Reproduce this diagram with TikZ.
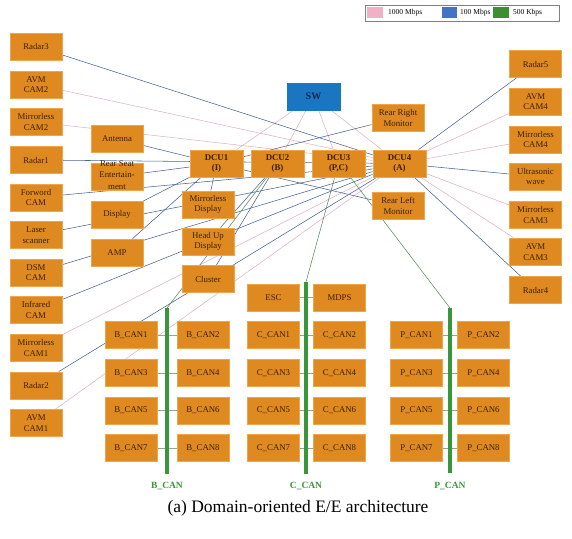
\documentclass[tikz,border=0pt]{standalone}
\usepackage{fontspec}
\setmainfont{Liberation Serif}
\usetikzlibrary{backgrounds}
\pgfdeclarelayer{paper}
\pgfsetlayers{paper,background,main}
\definecolor{unitfill}{HTML}{DF8A20}
\definecolor{unitedge}{HTML}{EFA64A}
\definecolor{unittext}{HTML}{3A1E08}
\definecolor{swfill}{HTML}{1B76C2}
\definecolor{swtext}{HTML}{15254F}
\definecolor{gig}{HTML}{DDB4C8}
\definecolor{fast}{HTML}{4A6592}
\definecolor{can}{HTML}{3A963A}
\definecolor{canwire}{HTML}{5C8A5C}
\definecolor{stubgrey}{HTML}{93A893}
\definecolor{keypink}{HTML}{F0B0C6}
\definecolor{keyblue}{HTML}{4472C4}
\definecolor{keygreen}{HTML}{3A8F2E}

\tikzset{
  unit/.style={draw=unitedge,fill=unitfill,line width=.8pt,minimum width=52pt,
    minimum height=27pt,inner sep=0pt,align=center,text=unittext,
    font=\fontsize{8.8}{10.5}\selectfont},
  dcu/.style={unit,minimum width=53pt,font=\bfseries\fontsize{8.8}{10.5}\selectfont},
  gbe/.style={gig,line width=.55pt},
  fe/.style={fast,line width=.55pt},
  canline/.style={canwire,line width=.55pt},
  stub/.style={stubgrey,line width=.6pt},
  canbus/.style={can,line width=3.6pt},
  buslabel/.style={text=can,font=\bfseries\fontsize{9.5}{11}\selectfont},
  keytext/.style={anchor=west,font=\fontsize{7.5}{9}\selectfont,inner sep=0pt},
}

\begin{document}
\begin{tikzpicture}[x=1pt,y=-1pt]
  \begin{pgfonlayer}{paper}
    \path[fill=white,use as bounding box] (0,0) rectangle (572,538);
  \end{pgfonlayer}

  % Legend, top right.
  \draw[gray,line width=.5pt] (365,5) rectangle (559,21);
  \fill[keypink] (367,7) rectangle (383,18);
  \fill[keyblue] (442,7) rectangle (457,18);
  \fill[keygreen] (493,7) rectangle (509,18);
  \node[keytext] (key1) at (388,13) {1000 Mbps};
  \node[keytext] (key2) at (460,13) {100 Mbps};
  \node[keytext] (key3) at (513,13) {500 Kbps};

  % Switch and the four domain controllers.
  \node[unit,fill=swfill,draw=swfill,minimum width=53pt,text=swtext,
    font=\bfseries\fontsize{10}{12}\selectfont] (sw) at (313.5,96.5) {SW};
  \node[dcu] (dcu1) at (216.5,163.5) {DCU1\\(I)};
  \node[dcu] (dcu2) at (277.5,163.5) {DCU2\\(B)};
  \node[dcu] (dcu3) at (338.5,163.5) {DCU3\\(P,C)};
  \node[dcu] (dcu4) at (399.5,163.5) {DCU4\\(A)};

  % Sensors, left column.
  \foreach \n/\y/\t in {radar3/46.5/Radar3, avm2/84.5/{AVM\\CAM2},
      mirror2/122/{Mirrorless\\CAM2}, radar1/160/Radar1, fcam/197.5/{Forword\\CAM},
      laser/235/{Laser\\scanner}, dsm/272.5/{DSM\\CAM}, infrared/310/{Infrared\\CAM},
      mirror1/348/{Mirrorless\\CAM1}, radar2/385.5/Radar2, avm1/423/{AVM\\CAM1}}
    \node[unit] (\n) at (36,\y) {\t};

  % Sensors, right column.
  \foreach \n/\y/\t in {radar5/64/Radar5, avm4/101.5/{AVM\\CAM4},
      mirror4/139.5/{Mirrorless\\CAM4}, ultra/176.5/{Ultrasonic\\wave},
      mirror3/215/{Mirrorless\\CAM3}, avm3/252/{AVM\\CAM3}, radar4/290/Radar4}
    \node[unit] (\n) at (535.5,\y) {\t};

  % Infotainment units.
  \node[unit] (antenna) at (117,139) {Antenna};
  \node[unit] (rse) at (117,176.5)
    {\raisebox{-2pt}{\smash{\fontsize{8.8}{11.5}\selectfont\begin{tabular}{@{}c@{}}Rear Seat\\Entertain-\\ment\end{tabular}}}};
  \node[unit] (display) at (117,214.5) {Display};
  \node[unit] (amp) at (117,252.5) {AMP};
  \node[unit] (mdisp) at (208,204.5) {Mirrorless\\Display};
  \node[unit] (hud) at (208,241.5) {Head Up\\Display};
  \node[unit] (cluster) at (208,279) {Cluster};
  \node[unit] (rrm) at (398,118) {Rear Right\\Monitor};
  \node[unit] (rlm) at (398,206) {Rear Left\\Monitor};

  % CAN buses.
  \coordinate (bbusT) at (167,308); \coordinate (bbusB) at (167,474);
  \coordinate (cbusT) at (306,282); \coordinate (cbusB) at (306,474);
  \coordinate (pbusT) at (450,308); \coordinate (pbusB) at (450,473);
  \draw[canbus] (bbusT) -- (bbusB);
  \draw[canbus] (cbusT) -- (cbusB);
  \draw[canbus] (pbusT) -- (pbusB);
  \node[buslabel] (blabel) at (167,486) {B\_CAN};
  \node[buslabel] (clabel) at (306,486) {C\_CAN};
  \node[buslabel] (plabel) at (450,486) {P\_CAN};

  \node[unit] (esc) at (273.5,297.5) {ESC};
  \node[unit] (mdps) at (339.5,297.5) {MDPS};
  \foreach \a/\b/\y in {1/2/335,3/4/373,5/6/410.5,7/8/448} {
    \node[unit] (bcan\a) at (131,\y) {B\_CAN\a};
    \node[unit] (bcan\b) at (203,\y) {B\_CAN\b};
    \node[unit] (ccan\a) at (273.5,\y) {C\_CAN\a};
    \node[unit] (ccan\b) at (339.5,\y) {C\_CAN\b};
    \node[unit] (pcan\a) at (416.5,\y) {P\_CAN\a};
    \node[unit] (pcan\b) at (483.5,\y) {P\_CAN\b};
  }

  \node[font=\fontsize{17.5}{20}\selectfont] (caption) at (298,508)
    {(a) Domain-oriented E/E architecture};

  \begin{pgfonlayer}{background}
    % 1000 Mbps backbone
    \foreach \d in {dcu1,dcu2,dcu3,dcu4}
      \draw[gbe] (sw) -- (\d);
    % sensors to DCU4
    \foreach \n/\s in {radar3/fe,avm2/gbe,mirror2/gbe,radar1/fe,fcam/fe,laser/fe,
        dsm/fe,infrared/fe,mirror1/gbe,radar2/fe,avm1/gbe,
        radar5/fe,avm4/gbe,mirror4/gbe,ultra/fe,mirror3/gbe,avm3/gbe,radar4/fe}
      \draw[\s] (\n) -- (dcu4);
    % infotainment
    \foreach \n in {antenna,rse,display,amp,mdisp,rrm,rlm}
      \draw[fe] (\n) -- (dcu1);
    \draw[fe] (hud) -- (dcu2);
    \draw[fe] (cluster) -- (dcu2);
    % buses to domain controllers
    \draw[canline] (dcu2) -- (bbusT);
    \draw[canline] (dcu3) -- (cbusT);
    \draw[canline] ([xshift=12pt]dcu3.south) -- (pbusT);
    % stubs across the buses
    \draw[stub] (esc) -- (mdps);
    \foreach \a/\b in {1/2,3/4,5/6,7/8} {
      \draw[stub] (bcan\a) -- (bcan\b);
      \draw[stub] (ccan\a) -- (ccan\b);
      \draw[stub] (pcan\a) -- (pcan\b);
    }
  \end{pgfonlayer}
\end{tikzpicture}
\end{document}
